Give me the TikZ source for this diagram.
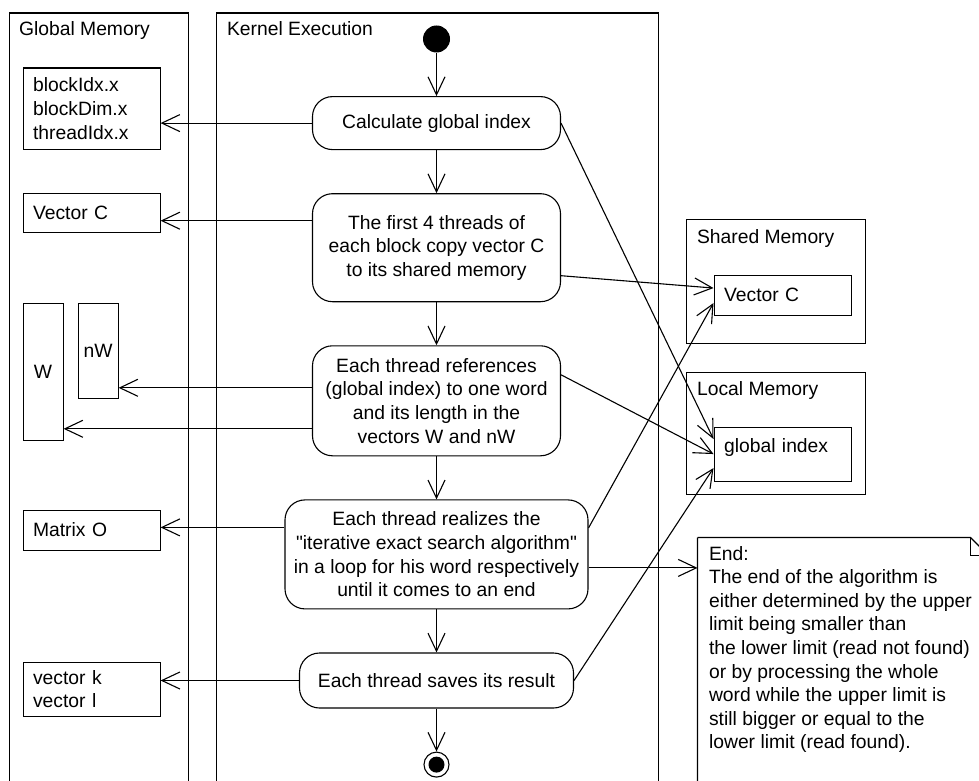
\documentclass[tikz,border=0pt]{standalone}
\usepackage{fontspec}
\setmainfont{Liberation Sans}
\usetikzlibrary{positioning}
\usetikzlibrary{arrows.meta}

\tikzset{
	lane/.style={draw, anchor=north west, inner sep=0pt},
	lanelabel/.style={anchor=base west, inner sep=0pt},
	action/.style={draw, rounded corners=20pt, align=center, minimum width=248pt},
	data/.style={draw, anchor=north west, align=left, inner xsep=10pt, minimum width=137pt, text width=117pt},
	column/.style={draw, anchor=north west, inner sep=0pt, minimum width=40pt},
	flow/.style={->}
}

\begin{document}
\begin{tikzpicture}[x=1pt, y=-1pt, line width=1.1pt, node distance=43pt,
	>={Straight Barb[length=18pt,width=17pt]},
	font=\fontsize{19.3}{23.6}\selectfont]
	\useasboundingbox (0,0) rectangle (979,781);
	\clip (0,0) rectangle (979,781);
	% lanes
	\node [lane, minimum width=179pt, minimum height=800pt] (global) at (8.5,12.5) {};
	\node [lanelabel] at ([xshift=10pt,yshift=-23pt]global.north west) {Global Memory};
	\node [lane, minimum width=442pt, minimum height=800pt] (kernel) at (215.5,12.5) {};
	\node [lanelabel] at ([xshift=11pt,yshift=-23pt]kernel.north west) {Kernel Execution};
	\node [lane, minimum width=179pt, minimum height=124pt] (shared) at (685.5,218.5) {};
	\node [lanelabel] at ([xshift=11pt,yshift=-25pt]shared.north west) {Shared Memory};
	\node [lane, minimum width=179pt, minimum height=122pt] (local) at (685.5,371.5) {};
	\node [lanelabel] at ([xshift=11pt,yshift=-24pt]local.north west) {Local Memory};

	% activity flow
	\node [circle, fill, minimum size=27pt, inner sep=0pt] (start) at (436.5,39) {};
	\node [action, minimum height=53pt, below=of start] (calc) {Calculate global index};
	\node [action, minimum height=108pt, below=of calc] (copy) {The first 4 threads of\\each block copy vector C\\to its shared memory};
	\node [action, minimum height=110pt, below=of copy] (refs) {Each thread references\\(global index) to one word\\and its length in the\\vectors W and nW};
	\node [action, minimum width=303pt, minimum height=109pt, below=of refs] (search) {Each thread realizes the\\\textquotedbl iterative exact search algorithm\textquotedbl\\in a loop for his word respectively\\until it comes to an end};
	\node [action, minimum width=274pt, minimum height=55pt, below=of search] (save) {Each thread saves its result};
	\node [circle, draw, minimum size=25pt, inner sep=0pt, below=of save] (stop) {};
	\fill (stop) circle [radius=8pt];

	\draw [flow] (start) -- (calc);
	\draw [flow] (calc) -- (copy);
	\draw [flow] (copy) -- (refs);
	\draw [flow] (refs) -- (search);
	\draw [flow] (search) -- (save);
	\draw [flow] (save) -- (stop);

	% global memory
	\node [data, minimum height=81pt] (idx) at (22.5,67.5) {blockIdx.x\\blockDim.x\\threadIdx.x};
	\node [data, minimum height=39pt] (gvec) at (22.5,192.5) {Vector C};
	\node [column, minimum height=137pt] (w) at (22.5,302.5) {W};
	\node [column, minimum height=95pt] (nw) at (77.5,302.5) {nW};
	\node [data, minimum height=40pt] (mato) at (22.5,509.5) {Matrix O};
	\node [data, minimum height=54pt] (kl) at (22.5,661.5) {vector k\\vector l};

	% shared and local memory
	\node [data, minimum height=40pt] (svec) at (713.5,274.5) {Vector C};
	\node [data, minimum height=54pt, text depth=17pt] (lidx) at (713.5,426.5) {global index};

	\draw [flow] (calc.west) -- (calc.west -| idx.east);
	\draw [flow] ([yshift=27pt]copy.west) -- ([yshift=27pt]copy.west -| gvec.east);
	\draw [flow] ([yshift=13pt]refs.west) -- ([yshift=13pt]refs.west -| nw.east);
	\draw [flow] ([yshift=-28pt]refs.west) -- ([yshift=-28pt]refs.west -| w.east);
	\draw [flow] ([yshift=27pt]search.west) -- ([yshift=27pt]search.west -| mato.east);
	\draw [flow] (save.west) -- (save.west -| kl.east);

	\draw [flow] (calc.east) -- ([yshift=15pt]lidx.west);
	\draw [flow] ([yshift=-28pt]copy.east) -- ([yshift=7pt]svec.west);
	\draw [flow] ([yshift=26pt]refs.east) -- (lidx.west);
	\draw [flow] ([yshift=26.5pt]search.east) -- ([yshift=-8pt]svec.west);
	\draw [flow] (save.east) -- ([yshift=-14pt]lidx.west);

	% note
	\node [anchor=north west, align=left, inner xsep=11pt, inner ysep=8pt] (note) at (697.5,537.5) {End:\\The end of the algorithm is\\either determined by the upper\\limit being smaller than\\the lower limit (read not found)\\or by processing the whole\\word while the upper limit is\\still bigger or equal to the\\lower limit (read found).};
	\draw (note.north west) -- ++(273,0) -- ++(18,18) -- ++(0,260) -| (note.north west);
	\draw ([xshift=273pt]note.north west) -- ++(0,18) -- ++(18,0);
	\draw [flow] ([yshift=-13.5pt]search.east) -- ([yshift=-13.5pt]search.east -| note.west);
\end{tikzpicture}
\end{document}
